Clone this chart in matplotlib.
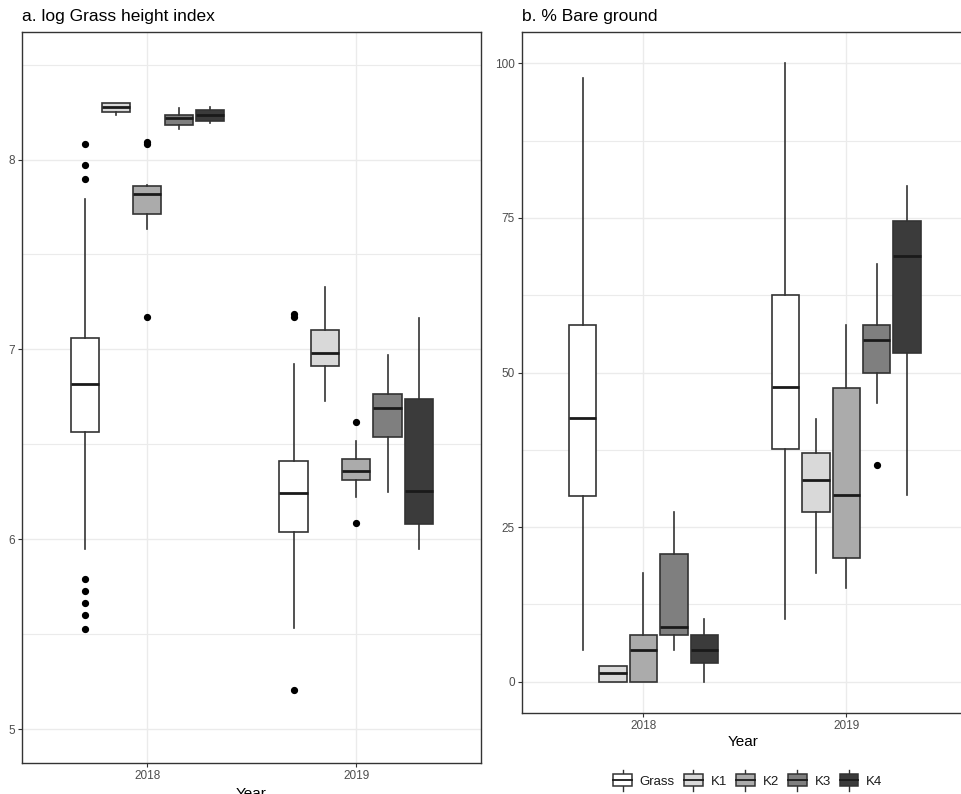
import matplotlib
matplotlib.use("Agg")
import matplotlib.pyplot as plt
from matplotlib.legend_handler import HandlerBase
from matplotlib.patches import Rectangle, Patch
from matplotlib.lines import Line2D

plt.rcParams['font.family'] = ['Liberation Sans', 'DejaVu Sans']

years = ["2018", "2019"]
groups = ["Grass", "K1", "K2", "K3", "K4"]
colors = ["#FFFFFF", "#D9D9D9", "#ABABAB", "#7F7F7F", "#3B3B3B"]

# Panel a: log grass height index  (whislo, q1, med, q3, whishi), outliers
a_2018 = [
    (5.95, 6.565, 6.817, 7.06, 7.79),
    (8.235, 8.251, 8.276, 8.297, 8.30),
    (7.635, 7.714, 7.82, 7.86, 7.868),
    (8.16, 8.183, 8.221, 8.237, 8.27),
    (8.19, 8.204, 8.235, 8.263, 8.276),
]
a_2019 = [
    (5.532, 6.038, 6.243, 6.41, 6.924),
    (6.726, 6.915, 6.98, 7.10, 7.33),
    (6.225, 6.312, 6.36, 6.424, 6.52),
    (6.249, 6.538, 6.693, 6.766, 6.968),
    (5.95, 6.078, 6.254, 6.74, 7.165),
]
a_out_2018 = [
    [8.083, 7.972, 7.898, 5.79, 5.727, 5.666, 5.60, 5.529],
    [],
    [8.09, 8.08, 7.168],
    [],
    [],
]
a_out_2019 = [
    [7.185, 7.17, 5.204],
    [],
    [6.615, 6.085],
    [],
    [],
]

# Panel b: % bare ground
b_2018 = [
    (5.2, 30.1, 42.6, 57.6, 97.6),
    (0.0, 0.0, 1.4, 2.6, 2.6),
    (0.0, 0.0, 5.2, 7.6, 17.6),
    (5.2, 7.6, 8.9, 20.6, 27.5),
    (0.0, 3.1, 5.2, 7.6, 10.1),
]
b_2019 = [
    (10.2, 37.6, 47.6, 62.6, 100.0),
    (17.6, 27.5, 32.7, 37.0, 42.5),
    (15.1, 20.0, 30.2, 47.5, 57.6),
    (45.1, 50.0, 55.2, 57.6, 67.6),
    (30.2, 53.2, 68.9, 74.5, 80.1),
]
b_out_2018 = [[], [], [], [], []]
b_out_2019 = [[], [], [], [35.1], []]

LINE = "#333333"
GRID = "#EBEBEB"
TICKC = "#4D4D4D"

offsets = [-0.3, -0.15, 0.0, 0.15, 0.3]
bw = 0.135


def draw_boxes(ax, data_by_year, out_by_year):
    for yi, (stats_list, outs) in enumerate(zip(data_by_year, out_by_year)):
        for gi, (s, o) in enumerate(zip(stats_list, outs)):
            st = dict(whislo=s[0], q1=s[1], med=s[2], q3=s[3], whishi=s[4], fliers=o)
            ax.bxp([st], positions=[yi + 1 + offsets[gi]], widths=bw,
                   patch_artist=True, showfliers=True, showcaps=False,
                   boxprops=dict(facecolor=colors[gi], edgecolor=LINE, linewidth=1.2),
                   whiskerprops=dict(color=LINE, linewidth=1.2),
                   medianprops=dict(color="#1A1A1A", linewidth=2.0),
                   flierprops=dict(marker='o', markerfacecolor='black',
                                   markeredgecolor='black', markersize=4.2,
                                   linestyle='none'),
                   zorder=3)


def style(ax, yticks, yminor, ylim):
    ax.set_xlim(0.4, 2.6)
    ax.set_ylim(*ylim)
    ax.set_xticks([1, 2])
    ax.set_xticklabels(years)
    ax.set_yticks(yticks)
    ax.set_yticks(yminor, minor=True)
    ax.tick_params(axis='both', which='major', length=3, width=0.8, color=LINE,
                   labelsize=8.5, labelcolor=TICKC, pad=2)
    ax.tick_params(axis='y', which='minor', length=0)
    ax.grid(True, which='major', color=GRID, linewidth=1.0, zorder=0)
    ax.grid(True, which='minor', axis='y', color=GRID, linewidth=0.8, zorder=0)
    ax.set_axisbelow(True)
    for sp in ax.spines.values():
        sp.set_color(LINE)
        sp.set_linewidth(1.0)


W, H = 962, 794
fig = plt.figure(figsize=(W / 100, H / 100), dpi=100)

ax1 = fig.add_axes([22 / W, 1 - 763.3 / H, (481.5 - 22) / W, (763.3 - 32.3) / H])
draw_boxes(ax1, [a_2018, a_2019], [a_out_2018, a_out_2019])
style(ax1, [5, 6, 7, 8], [5.5, 6.5, 7.5, 8.5], (4.82, 8.67))
ax1.set_yticklabels(["5", "6", "7", "8"])
fig.text(22 / W, 1 - 16 / H, "a. log Grass height index", fontsize=12.5,
         ha='left', va='center', color='black')
fig.text(251.5 / W, 1 - 787 / H, "Year", fontsize=11, ha='center', va='top')

ax2 = fig.add_axes([521.7 / W, 1 - 712.7 / H, (968 - 521.7) / W, (712.7 - 32.3) / H])
draw_boxes(ax2, [b_2018, b_2019], [b_out_2018, b_out_2019])
style(ax2, [0, 25, 50, 75, 100], [12.5, 37.5, 62.5, 87.5], (-5, 105))
ax2.spines['right'].set_visible(False)
fig.text(522 / W, 1 - 16 / H, "b. % Bare ground", fontsize=12.5,
         ha='left', va='center', color='black')
fig.text(743 / W, 1 - 742 / H, "Year", fontsize=11, ha='center', va='center')


class BoxHandler(HandlerBase):
    def create_artists(self, legend, orig_handle, xdescent, ydescent, width,
                       height, fontsize, trans):
        fc = orig_handle.get_facecolor()
        bwid = width
        x0 = -xdescent
        y0 = -ydescent
        cx = x0 + bwid / 2
        rect = Rectangle((x0, y0), bwid, height,
                         facecolor=fc, edgecolor=LINE, linewidth=1.1, transform=trans)
        med = Line2D([x0, x0 + bwid], [y0 + height / 2] * 2, color="#1A1A1A",
                     linewidth=1.3, transform=trans)
        w1 = Line2D([cx, cx], [y0 + height, y0 + height * 1.4], color=LINE,
                    linewidth=1.0, transform=trans)
        w2 = Line2D([cx, cx], [y0, y0 - height * 0.4], color=LINE,
                    linewidth=1.0, transform=trans)
        return [w1, w2, rect, med]


handles = [Patch(facecolor=c, edgecolor=LINE) for c in colors]
leg = fig.legend(handles, groups, loc='center', bbox_to_anchor=(748 / W, 1 - 781 / H),
                 ncol=5, frameon=False, fontsize=9.5, handlelength=1.4,
                 handleheight=1.0, handletextpad=0.6, columnspacing=0.7,
                 handler_map={Patch: BoxHandler()})
for t in leg.get_texts():
    t.set_color("#1A1A1A")

fig.savefig("out.png", dpi=100)
